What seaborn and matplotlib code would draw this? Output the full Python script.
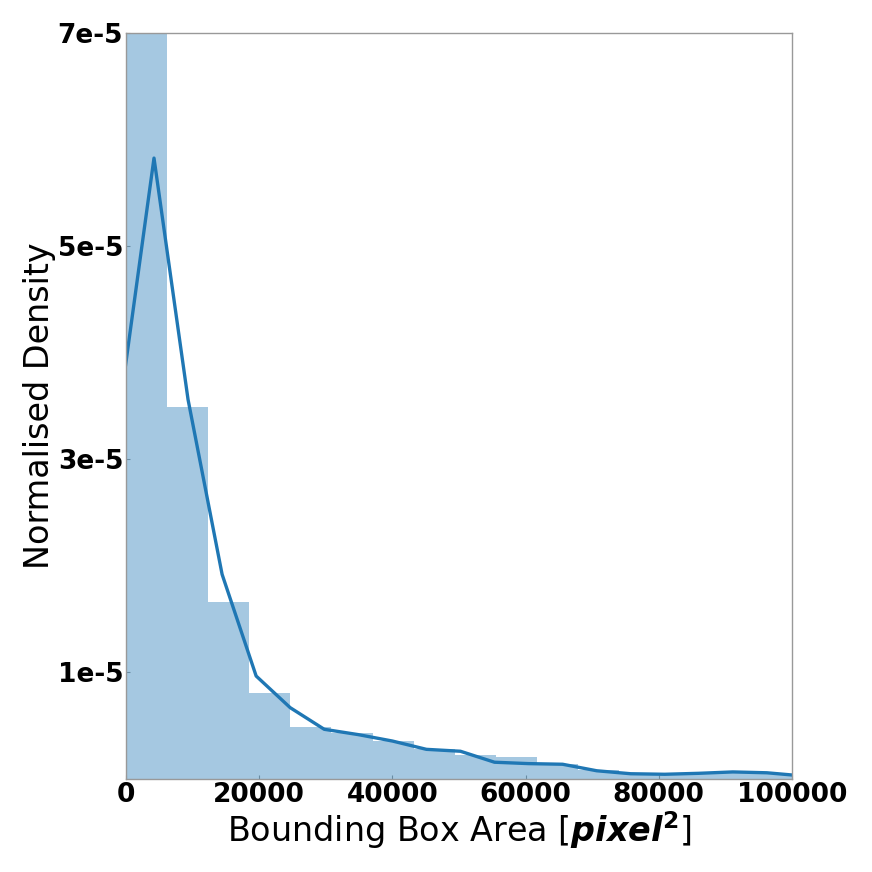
import numpy as np
import pandas as pd
import matplotlib
matplotlib.use("Agg")
import matplotlib.pyplot as plt
import seaborn as sns

# Histogram (normalised density)
bin_width = 6170.0
bar_density = [9.0e-5, 3.494e-5, 1.659e-5, 0.810e-5, 0.491e-5, 0.428e-5,
               0.356e-5, 0.285e-5, 0.222e-5, 0.206e-5, 0.138e-5, 0.082e-5,
               0.060e-5, 0.053e-5, 0.058e-5, 0.052e-5, 0.045e-5]

# KDE polyline vertices
kde_x = [-909, 4204, 9317, 14430, 19543, 24656, 29769, 34882, 39995, 45108,
         50221, 55334, 60447, 65560, 70673, 75786, 80899, 86012, 91125, 96238, 101351]
kde_y = [3.50e-5, 5.826e-5, 3.56e-5, 1.92e-5, 0.966e-5, 0.669e-5, 0.466e-5,
         0.416e-5, 0.356e-5, 0.278e-5, 0.260e-5, 0.157e-5, 0.144e-5, 0.138e-5,
         0.077e-5, 0.049e-5, 0.044e-5, 0.053e-5, 0.066e-5, 0.058e-5, 0.030e-5]

ytick_vals = [1e-5, 3e-5, 5e-5, 7e-5]
ytick_labels = ["1e-5", "3e-5", "5e-5", "7e-5"]
xtick_vals = [0, 20000, 40000, 60000, 80000, 100000]

sns.set_theme(style="white")
plt.rcParams['font.family'] = ['DejaVu Sans']
plt.rcParams['text.color'] = 'black'
plt.rcParams['axes.labelcolor'] = 'black'
plt.rcParams['xtick.color'] = 'black'
plt.rcParams['ytick.color'] = 'black'

n = len(bar_density)
edges = np.arange(n + 1) * bin_width
centers = (edges[:-1] + edges[1:]) / 2
hist_df = pd.DataFrame({"area": centers, "density": bar_density})
kde_df = pd.DataFrame({"area": kde_x, "density": kde_y})

fig = plt.figure(figsize=(8.72, 8.72), dpi=100)
ax = fig.add_axes([0.1445, 0.1067, 0.7637, 0.8555])

sns.histplot(data=hist_df, x="area", weights="density",
             binwidth=bin_width, binrange=(0, n * bin_width),
             stat="count", color="#1f77b4", alpha=0.4, linewidth=0,
             edgecolor="none", ax=ax)
sns.lineplot(data=kde_df, x="area", y="density", color="#1f77b4",
             linewidth=2.4, ax=ax, sort=False)

ax.set_xlim(0, 100000)
ax.set_ylim(0, 7e-5)
ax.set_yticks(ytick_vals)
ax.set_yticklabels(ytick_labels)
ax.set_xticks(xtick_vals)
ax.set_xticklabels([str(v) for v in xtick_vals])
for lab in ax.get_xticklabels() + ax.get_yticklabels():
    lab.set_fontweight("bold")
    lab.set_fontsize(19)
    lab.set_color("black")

ax.tick_params(axis="both", length=3, width=0.8, color="#999999", pad=2,
               left=True, bottom=True, direction="in")

for s in ax.spines.values():
    s.set_color("#999999")
    s.set_linewidth(1.0)

ax.set_xlabel(r"Bounding Box Area [$\mathbfit{pixel}^{\mathbf{2}}$]", fontsize=24,
              labelpad=1, color="black")
ax.set_ylabel("Normalised Density", fontsize=24, labelpad=1, color="black")

fig.savefig("out.png", dpi=100)
